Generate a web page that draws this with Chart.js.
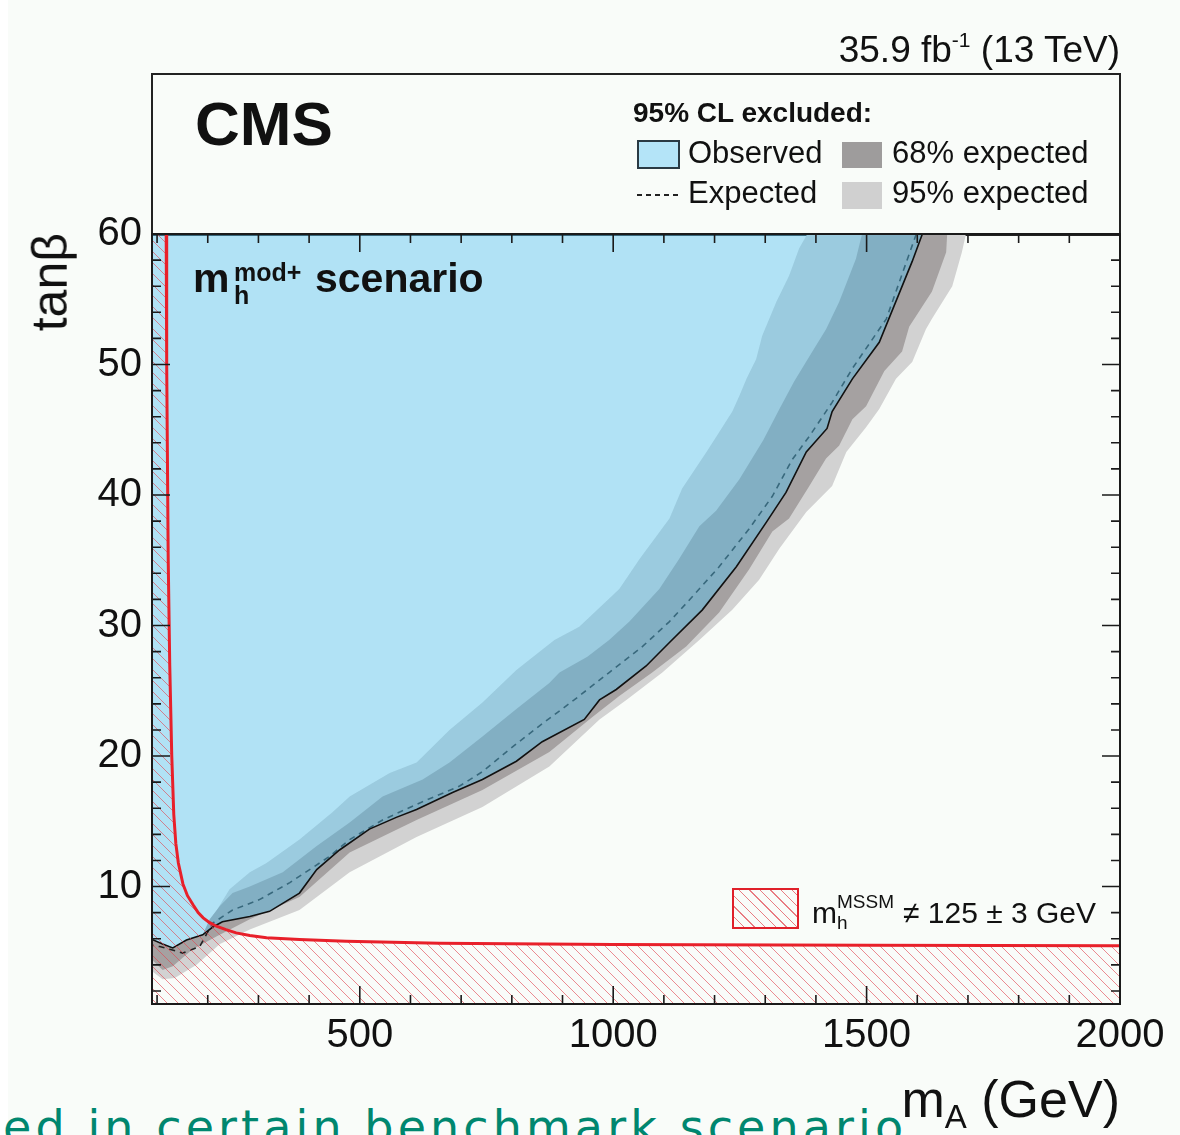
<!DOCTYPE html>
<html><head><meta charset="utf-8">
<script src="https://cdn.jsdelivr.net/npm/chart.js@4.4.1/dist/chart.umd.min.js"></script>
<style>
html,body{margin:0;padding:0;background:#f9fcf9;}
#wrap{position:relative;width:1180px;height:1135px;overflow:hidden;font-family:"Liberation Sans",Arial,Helvetica,sans-serif;color:#111;}
#c{position:absolute;left:0;top:0;}
.t{position:absolute;white-space:nowrap;line-height:1;}
.box{position:absolute;box-sizing:border-box;}
</style></head><body>
<div id="wrap">
  <div class="box" style="left:0;top:0;width:8px;height:1135px;background:#fff;"></div>
  <div class="t" id="teal" style="left:3px;font-family:'DejaVu Sans',sans-serif;font-size:46px;letter-spacing:4.1px;color:#00876f;">ed in certain benchmark scenarios</div>
  <div class="box" style="left:904px;top:1066px;width:276px;height:69px;background:#f9fcf9;"></div>
  <div class="box" style="left:151px;top:73px;width:970px;height:163px;border:2px solid #222;"></div>
  <canvas id="c" width="1180" height="1135"></canvas>
</div>
<script>
// ---------------- data ----------------
const X_MIN = 90, X_MAX = 2000, Y_MIN = 1, Y_MAX = 60;
const xTickLabels = [500, 1000, 1500, 2000];
const yTickLabels = [10, 20, 30, 40, 50, 60];

// observed 95% CL exclusion contour (mA in GeV, tan beta)
const obsMA   = [1610, 1590, 1525, 1472, 1432, 1422, 1381, 1341, 1302, 1243, 1176, 1111, 1065, 1006, 973, 943, 860, 809, 742, 683, 612, 572, 519, 460, 415, 381, 322, 283, 229, 210, 190, 158, 131, 111, 90];
const obsTanb = [60, 57.9, 51.7, 48.9, 46.4, 45.1, 43.3, 40.2, 37.9, 34.5, 31.2, 28.7, 26.9, 25.1, 24.3, 22.8, 21.1, 19.6, 18.2, 17.2, 15.9, 15.3, 14.4, 12.8, 11.3, 9.5, 8.1, 7.7, 7.3, 6.9, 6.3, 5.9, 5.3, 5.6, 5.95];

// expected contour
const expMA   = [1598, 1539, 1472, 1432, 1387, 1353, 1314, 1268, 1209, 1156, 1111, 1058, 992, 923, 854, 795, 742, 697, 612, 545, 480, 440, 362, 302, 249, 210, 184, 151, 125, 105, 90];
const expTanb = [60, 53.5, 49.7, 47.1, 44.5, 42.7, 39.9, 37.4, 34.5, 32.2, 30.3, 28.4, 26.4, 24.3, 22.3, 20.5, 18.8, 17.7, 16.3, 15.1, 13.6, 12.3, 10.3, 9.0, 8.2, 7.2, 5.4, 4.9, 5.2, 5.4, 5.5];

// 68% expected band: upper-left edge and lower-right edge
const band68UpMA   = [1491, 1479, 1446, 1420, 1393, 1357, 1328, 1296, 1249, 1203, 1170, 1130, 1091, 1032, 992, 949, 894, 874, 809, 742, 677, 624, 545, 480, 415, 348, 283, 249, 224, 204, 190, 158, 131, 111, 90];
const band68UpTanb = [60, 58.1, 54.8, 52.7, 51.0, 48.7, 46.6, 44.2, 41.2, 38.8, 37.6, 35.1, 32.8, 30.3, 28.9, 27.6, 26.4, 25.6, 23.6, 21.5, 19.5, 18.2, 16.9, 14.9, 13.1, 11.1, 10.0, 9.5, 8.5, 7.5, 6.3, 5.9, 5.3, 5.6, 5.95];
const band68LoMA   = [1659, 1657, 1629, 1584, 1570, 1535, 1499, 1472, 1446, 1420, 1387, 1347, 1314, 1268, 1209, 1144, 1077, 1012, 959, 874, 742, 612, 480, 381, 283, 218, 170, 131, 111, 90];
const band68LoTanb = [60, 58.6, 55.6, 52.9, 51.0, 49.5, 46.8, 45.8, 43.8, 42.8, 40.7, 38.2, 37.2, 34.3, 31.0, 28.4, 26.4, 24.6, 23.0, 20.3, 17.4, 15.1, 12.6, 9.2, 7.5, 6.2, 5.2, 3.9, 3.6, 4.4];

// 95% expected band
const band95UpMA   = [1383, 1367, 1347, 1322, 1294, 1282, 1263, 1249, 1235, 1209, 1184, 1136, 1111, 1052, 1012, 933, 884, 809, 742, 677, 612, 559, 480, 446, 381, 316, 283, 243, 218, 204, 190, 158, 131, 111, 90];
const band95UpTanb = [60, 58.9, 56.8, 54.8, 52.2, 50.4, 48.9, 47.6, 46.4, 44.8, 43.3, 40.5, 38.2, 35.1, 32.8, 29.9, 28.9, 26.6, 24.1, 22.0, 19.5, 18.7, 16.9, 15.7, 13.6, 11.8, 11.1, 9.8, 8.2, 7.5, 6.3, 5.9, 5.3, 5.6, 5.95];
const band95LoMA   = [1696, 1688, 1669, 1629, 1617, 1590, 1558, 1525, 1499, 1460, 1432, 1381, 1328, 1288, 1235, 1170, 1097, 1026, 973, 874, 742, 612, 480, 381, 283, 224, 178, 135, 111, 90];
const band95LoTanb = [60, 58.6, 56.0, 53.5, 52.7, 50.2, 48.9, 46.6, 45.2, 43.3, 40.7, 38.7, 35.9, 33.5, 31.2, 28.9, 26.4, 24.3, 22.8, 19.2, 16.1, 13.8, 11.1, 8.2, 6.7, 5.6, 4.0, 3.0, 2.9, 3.5];

// boundary of m_h^MSSM != 125 +- 3 GeV (region left of / below is excluded)
const mhMA   = [118, 119, 122, 125, 129, 133, 137, 142, 151, 160, 171, 181, 191, 203, 217, 236, 256, 283, 316, 381, 473, 657, 1000, 1500, 2000];
const mhTanb = [60, 50, 35, 27, 20, 15.5, 13.3, 11.8, 10.2, 9.3, 8.6, 8.0, 7.6, 7.25, 6.96, 6.7, 6.45, 6.25, 6.07, 5.94, 5.81, 5.65, 5.56, 5.5, 5.47];

// ---------------- helpers ----------------
const pts = (xs, ys) => xs.map((v, i) => ({x: v, y: ys[i]}));
const obsPoly = [{x: X_MIN, y: Y_MAX}, ...pts(obsMA, obsTanb)];
const band68Poly = [...pts(band68UpMA, band68UpTanb), ...pts(band68LoMA, band68LoTanb).reverse()];
const band95Poly = [...pts(band95UpMA, band95UpTanb), ...pts(band95LoMA, band95LoTanb).reverse()];
const hatchPoly = [{x: X_MIN, y: Y_MAX}, ...pts(mhMA, mhTanb), {x: X_MAX, y: Y_MIN}, {x: X_MIN, y: Y_MIN}];

const canvas = document.getElementById('c');
const ctx = canvas.getContext('2d');
const T = 11;
const pc = document.createElement('canvas'); pc.width = T; pc.height = T;
const pg = pc.getContext('2d');
pg.strokeStyle = 'rgba(226,70,80,0.62)'; pg.lineWidth = 1;
pg.beginPath();
pg.moveTo(-1, -1); pg.lineTo(T + 1, T + 1);
pg.moveTo(-T - 1, -1); pg.lineTo(1, T + 1);
pg.moveTo(T - 1, -1); pg.lineTo(2 * T + 1, T + 1);
pg.stroke();
const hatch = ctx.createPattern(pc, 'repeat');

const ds = (data, extra) => Object.assign({data, pointRadius: 0, pointHoverRadius: 0, tension: 0,
  borderWidth: 1, borderColor: 'transparent', fill: false}, extra);

const frameTicks = {
  id: 'frameTicks',
  afterDatasetsDraw(chart) {
    const {ctx, chartArea: a, scales: {x, y}} = chart;
    ctx.save();
    ctx.strokeStyle = '#1a1a1a'; ctx.lineWidth = 1.6;
    ctx.beginPath();
    for (let v = 100; v <= X_MAX; v += 100) {
      if (v <= X_MIN) continue;
      const px = x.getPixelForValue(v);
      const len = v % 500 === 0 ? 18 : 9;
      ctx.moveTo(px, a.bottom); ctx.lineTo(px, a.bottom - len);
      ctx.moveTo(px, a.top); ctx.lineTo(px, a.top + len);
    }
    for (let v = 2; v < Y_MAX; v += 2) {
      const py = y.getPixelForValue(v);
      const len = v % 10 === 0 ? 18 : 9;
      ctx.moveTo(a.left, py); ctx.lineTo(a.left + len, py);
      ctx.moveTo(a.right, py); ctx.lineTo(a.right - len, py);
    }
    ctx.stroke();
    ctx.lineWidth = 2;
    ctx.strokeRect(a.left, a.top, a.right - a.left, a.bottom - a.top);
    ctx.restore();
  }
};

new Chart(ctx, {
  type: 'line',
  data: {
    datasets: [
      ds(pts(mhMA, mhTanb), {borderColor: '#e8202a', borderWidth: 3}),
      ds(hatchPoly, {fill: 'shape', backgroundColor: hatch}),
      ds(pts(obsMA, obsTanb), {borderColor: '#111', borderWidth: 1.6}),
      ds(obsPoly, {fill: 'shape', backgroundColor: 'rgba(86,194,239,0.444)'}),
      ds(pts(expMA, expTanb), {borderColor: '#222', borderWidth: 1.6, borderDash: [6, 5]}),
      ds(band68Poly, {fill: 'shape', backgroundColor: '#a5a1a1'}),
      ds(band95Poly, {fill: 'shape', backgroundColor: '#d2d2d2'})
    ]
  },
  options: {
    responsive: false, animation: false, devicePixelRatio: 1, events: [],
    layout: {padding: {left: 0, top: 234, right: 60, bottom: 0}},
    plugins: {legend: {display: false}, tooltip: {enabled: false}, title: {display: false}},
    scales: {
      x: {
        type: 'linear', min: X_MIN, max: X_MAX,
        grid: {display: false, drawTicks: false}, border: {display: false},
        afterBuildTicks: s => { s.ticks = xTickLabels.map(v => ({value: v})); },
        afterFit: s => { s.height = 131; },
        ticks: {font: {family: 'Liberation Sans', size: 40}, color: '#111', padding: 8, maxRotation: 0, autoSkip: false,
                callback: v => String(v)}
      },
      y: {
        type: 'linear', min: Y_MIN, max: Y_MAX,
        grid: {display: false, drawTicks: false}, border: {display: false},
        afterBuildTicks: s => { s.ticks = yTickLabels.map(v => ({value: v})); },
        afterFit: s => { s.width = 152; },
        ticks: {font: {family: 'Liberation Sans', size: 40}, color: '#111', padding: 10, autoSkip: false,
                callback: v => String(v)}
      }
    }
  },
  plugins: [frameTicks]
});

// ---------------- text annotations ----------------
const wrap = document.getElementById('wrap');
function put(html, left, baseline, size, o = {}) {
  const d = document.createElement('div');
  d.className = 't'; d.innerHTML = html;
  d.style.fontSize = size + 'px';
  d.style.top = (baseline - 0.8465 * size) + 'px';
  if (o.right) d.style.right = (1180 - left) + 'px'; else d.style.left = left + 'px';
  if (o.bold) d.style.fontWeight = 'bold';
  wrap.appendChild(d);
  return d;
}
function boxDiv(css) { const d = document.createElement('div'); d.className = 'box'; d.style.cssText += css; wrap.appendChild(d); return d; }

const teal = document.getElementById('teal');
teal.style.top = (1147 - 0.93 * 46) + 'px';

put('35.9 fb<span style="font-size:21px;position:relative;top:-15px">-1</span> (13 TeV)', 1120, 62, 37, {right: true});
put('CMS', 195, 145, 62, {bold: true});
put('95% CL excluded:', 633, 123, 28, {bold: true});
boxDiv('left:637px;top:140px;width:43px;height:29px;border:2px solid #2a3a44;background:#b4e4f8;');
put('Observed', 688, 163, 31);
boxDiv('left:842px;top:142px;width:40px;height:26px;background:#9e9c9c;');
put('68% expected', 892, 163, 31);
boxDiv('left:637px;top:194px;width:45px;height:2px;background:repeating-linear-gradient(90deg,#222 0 5px,transparent 5px 9px);');
put('Expected', 688, 203, 31);
boxDiv('left:842px;top:182px;width:40px;height:27px;background:#d0d0d0;');
put('95% expected', 892, 203, 31);

put('m', 193, 293, 41, {bold: true});
put('mod+', 234, 281, 25, {bold: true});
put('h', 234, 304, 25, {bold: true});
put('scenario', 315, 293, 41, {bold: true});

boxDiv('left:732px;top:888px;width:67px;height:41px;border:2.5px solid #e0202a;background:repeating-linear-gradient(45deg,transparent 0 6.5px,rgba(226,70,80,0.7) 6.5px 7.5px);');
put('m', 812, 923, 30);
put('MSSM', 837, 908, 19);
put('h', 837, 929, 19);
put('≠ 125 ± 3 GeV', 903, 923, 30);

put('m<span style="font-size:33px;position:relative;top:11px">A</span> (GeV)', 1120, 1117, 52, {right: true});

const tb = document.createElement('div');
tb.className = 't';
tb.textContent = 'tanβ';
tb.style.cssText += 'left:0;top:0;width:200px;text-align:right;font-size:50px;transform-origin:0 0;transform:translate(24.7px,433px) rotate(-90deg);';
wrap.appendChild(tb);
</script>
</body></html>
